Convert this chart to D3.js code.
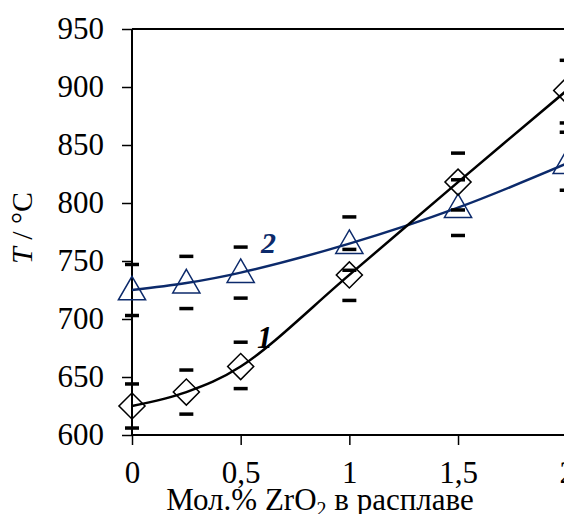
<!DOCTYPE html>
<html><head><meta charset="utf-8">
<script src="https://cdn.jsdelivr.net/npm/d3@7"></script>
<style>body{margin:0;background:#fff}svg{display:block}</style>
</head><body>
<script>
const xValues = [0, 0.25, 0.5, 1, 1.5, 2];
const series1 = [625, 637, 659, 738, 818, 897];
const series1Hi = [644, 656, 680, 742, 843, 923];
const series1Lo = [606, 618, 640, 716, 794, 869];
const series2 = [725, 731, 740, 765, 796, 834];
const series2Hi = [747, 754, 762, 788, 820, 861];
const series2Lo = [703, 709, 718, 760, 772, 811];
const xTicks = [0, 0.5, 1, 1.5, 2];
const xTickLabels = ["0", "0,5", "1", "1,5", "2"];
const yTicks = [600, 650, 700, 750, 800, 850, 900, 950];

const W = 564, H = 514;
const svg = d3.select("body").append("svg").attr("width", W).attr("height", H);
const x = d3.scaleLinear().domain([0, 2]).range([132, 566.7]);
const y = d3.scaleLinear().domain([600, 950]).range([435, 29]);
const navy = "#0c2a6b";
const serif = "'Liberation Serif','Times New Roman',serif";

// axes
const gy = svg.append("g").attr("transform", "translate(132,0)")
  .call(d3.axisLeft(y).tickValues(yTicks).tickSize(10).tickPadding(18));
const gx = svg.append("g").attr("transform", "translate(0,435)")
  .call(d3.axisBottom(x).tickValues(xTicks).tickFormat((d,i)=>xTickLabels[i]).tickSize(10).tickPadding(16));
[gx, gy].forEach(g => {
  g.select(".domain").attr("stroke", "#000").attr("stroke-width", 2);
  g.selectAll(".tick line").attr("stroke", "#000").attr("stroke-width", 1.5);
  g.selectAll(".tick text").attr("font-family", serif).attr("font-size", 31).attr("fill", "#000");
});
gx.select(".domain").attr("d", `M132,0H${W}`);
gy.select(".domain").attr("d", "M0,435V29");
// top border
svg.append("line").attr("x1", 132).attr("x2", W).attr("y1", y(950)).attr("y2", y(950))
  .attr("stroke", "#000").attr("stroke-width", 2);

const data1 = xValues.map((v,i)=>[v, series1[i]]);
const data2 = xValues.map((v,i)=>[v, series2[i]]);
const line = d3.line().x(d=>x(d[0])).y(d=>y(d[1])).curve(d3.curveCatmullRom.alpha(0.5));

svg.append("path").attr("d", line(data2)).attr("fill", "none").attr("stroke", navy).attr("stroke-width", 2.5);
svg.append("path").attr("d", line(data1)).attr("fill", "none").attr("stroke", "#000").attr("stroke-width", 2.5);

// markers
const tri = d3.symbol().type(d3.symbolTriangle).size(320);
svg.selectAll(".tri").data(data2).join("path")
  .attr("transform", d=>`translate(${x(d[0])},${y(d[1])+2})`)
  .attr("d", tri).attr("fill", "none").attr("stroke", navy).attr("stroke-width", 1.5);
svg.selectAll(".dia").data(data1).join("path")
  .attr("transform", d=>`translate(${x(d[0])},${y(d[1])}) rotate(45)`)
  .attr("d", d3.symbol().type(d3.symbolSquare).size(340)).attr("fill", "none").attr("stroke", "#000").attr("stroke-width", 1.5);

// error dashes
const dashes = [];
xValues.forEach((v,i)=>{
  [series1Hi[i], series1Lo[i], series2Hi[i], series2Lo[i]].forEach(t=>dashes.push([v,t]));
});
svg.selectAll(".dash").data(dashes).join("line")
  .attr("x1", d=>x(d[0])-7).attr("x2", d=>x(d[0])+7)
  .attr("y1", d=>y(d[1])).attr("y2", d=>y(d[1]))
  .attr("stroke", "#000").attr("stroke-width", 3.5);

// curve labels
svg.append("text").attr("x", 257).attr("y", 348).attr("font-family", serif).attr("font-size", 31)
  .attr("font-style", "italic").attr("font-weight", "bold").attr("fill", "#000").text("1");
svg.append("text").attr("x", 261).attr("y", 253).attr("font-family", serif).attr("font-size", 30)
  .attr("font-style", "italic").attr("font-weight", "bold").attr("fill", navy).text("2");

// axis titles
const xt = svg.append("text").attr("x", 320).attr("y", 510).attr("text-anchor", "middle")
  .attr("font-family", serif).attr("font-size", 31).attr("fill", "#000");
xt.append("tspan").text("Мол.% ZrO");
xt.append("tspan").attr("font-size", 20).attr("dy", 6).text("2");
xt.append("tspan").attr("dy", -6).text(" в расплаве");

const yt = svg.append("text").attr("transform", "translate(32,228) rotate(-90)").attr("text-anchor", "middle")
  .attr("font-family", serif).attr("font-size", 30).attr("fill", "#000");
yt.append("tspan").attr("font-style", "italic").text("T");
yt.append("tspan").text(" / °C");
</script>
</body></html>
